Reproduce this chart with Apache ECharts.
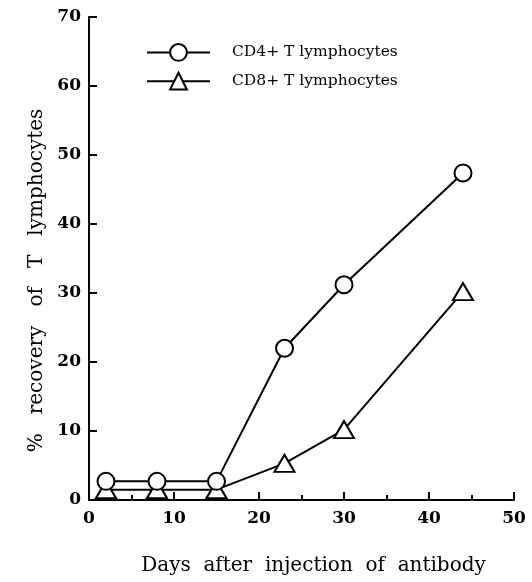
<!doctype html>
<html>
<head>
<meta charset="UTF-8">
<title></title>
<script src="https://cdn.jsdelivr.net/npm/echarts@6/dist/echarts.min.js"></script>
<style>
html, body { margin: 0; padding: 0; background: #fff; }
#main { width: 532px; height: 582px; }
</style>
</head>
<body>
<div id="main"></div>
<script>
// 数据
var days = [2, 8, 15, 23, 30, 44];
var cd4 = [2.7, 2.7, 2.7, 22, 31.2, 47.4];
var cd8 = [1.5, 1.5, 1.5, 5.3, 10.2, 30.2];
var seriesNames = ['CD4+ T lymphocytes', 'CD8+ T lymphocytes'];

function pairs(xs, ys) {
	var out = [];
	for (var i = 0; i < xs.length; i++) {
		out.push([xs[i], ys[i]]);
	}
	return out;
}

var font = 'DejaVu Serif';
var myChart = echarts.init(document.getElementById('main'));
var option = {
	backgroundColor: '#fff',
	animation: false,
	grid: { left: 89, right: 18, top: 17, bottom: 82 },
	legend: {
		left: 141,
		top: 38,
		orient: 'vertical',
		itemWidth: 63,
		itemHeight: 21,
		itemGap: 10,
		textStyle: { fontFamily: font, fontSize: 15.5, color: '#000', padding: [0, 0, 0, 17] },
		data: seriesNames
	},
	xAxis: {
		type: 'value',
		min: 0,
		max: 50,
		interval: 10,
		name: 'Days  after  injection  of  antibody',
		nameLocation: 'middle',
		nameGap: 56,
		nameTextStyle: { fontFamily: font, fontSize: 20, color: '#000', padding: [0, 0, 0, 24] },
		axisLine: { lineStyle: { color: '#000', width: 2 } },
		axisTick: { inside: true, length: 8, lineStyle: { color: '#000', width: 2 } },
		minorTick: { show: true, splitNumber: 2, length: 5, lineStyle: { color: '#000', width: 2 } },
		splitLine: { show: false },
		axisLabel: { fontFamily: font, fontSize: 17, fontWeight: 'bold', color: '#000', margin: 10 }
	},
	yAxis: {
		type: 'value',
		min: 0,
		max: 70,
		interval: 10,
		name: '%   recovery   of   T   lymphocytes',
		nameLocation: 'middle',
		nameGap: 39,
		nameTextStyle: { fontFamily: font, fontSize: 20, color: '#000', padding: [0, 44, 0, 0] },
		axisLine: { show: true, lineStyle: { color: '#000', width: 2 } },
		axisTick: { show: true, inside: true, length: 8, lineStyle: { color: '#000', width: 2 } },
		splitLine: { show: false },
		axisLabel: { fontFamily: font, fontSize: 17, fontWeight: 'bold', color: '#000', margin: 8 }
	},
	series: [{
		name: seriesNames[0],
		type: 'line',
		data: pairs(days, cd4),
		symbol: 'circle',
		symbolSize: 17,
		lineStyle: { color: '#000', width: 2 },
		itemStyle: { color: '#fff', borderColor: '#000', borderWidth: 2 },
		z: 3
	}, {
		name: seriesNames[1],
		type: 'line',
		data: pairs(days, cd8),
		symbol: 'triangle',
		symbolSize: [20, 17],
		lineStyle: { color: '#000', width: 2 },
		itemStyle: { color: '#fff', borderColor: '#000', borderWidth: 2 },
		z: 2
	}]
};
myChart.setOption(option);
</script>
</body>
</html>
